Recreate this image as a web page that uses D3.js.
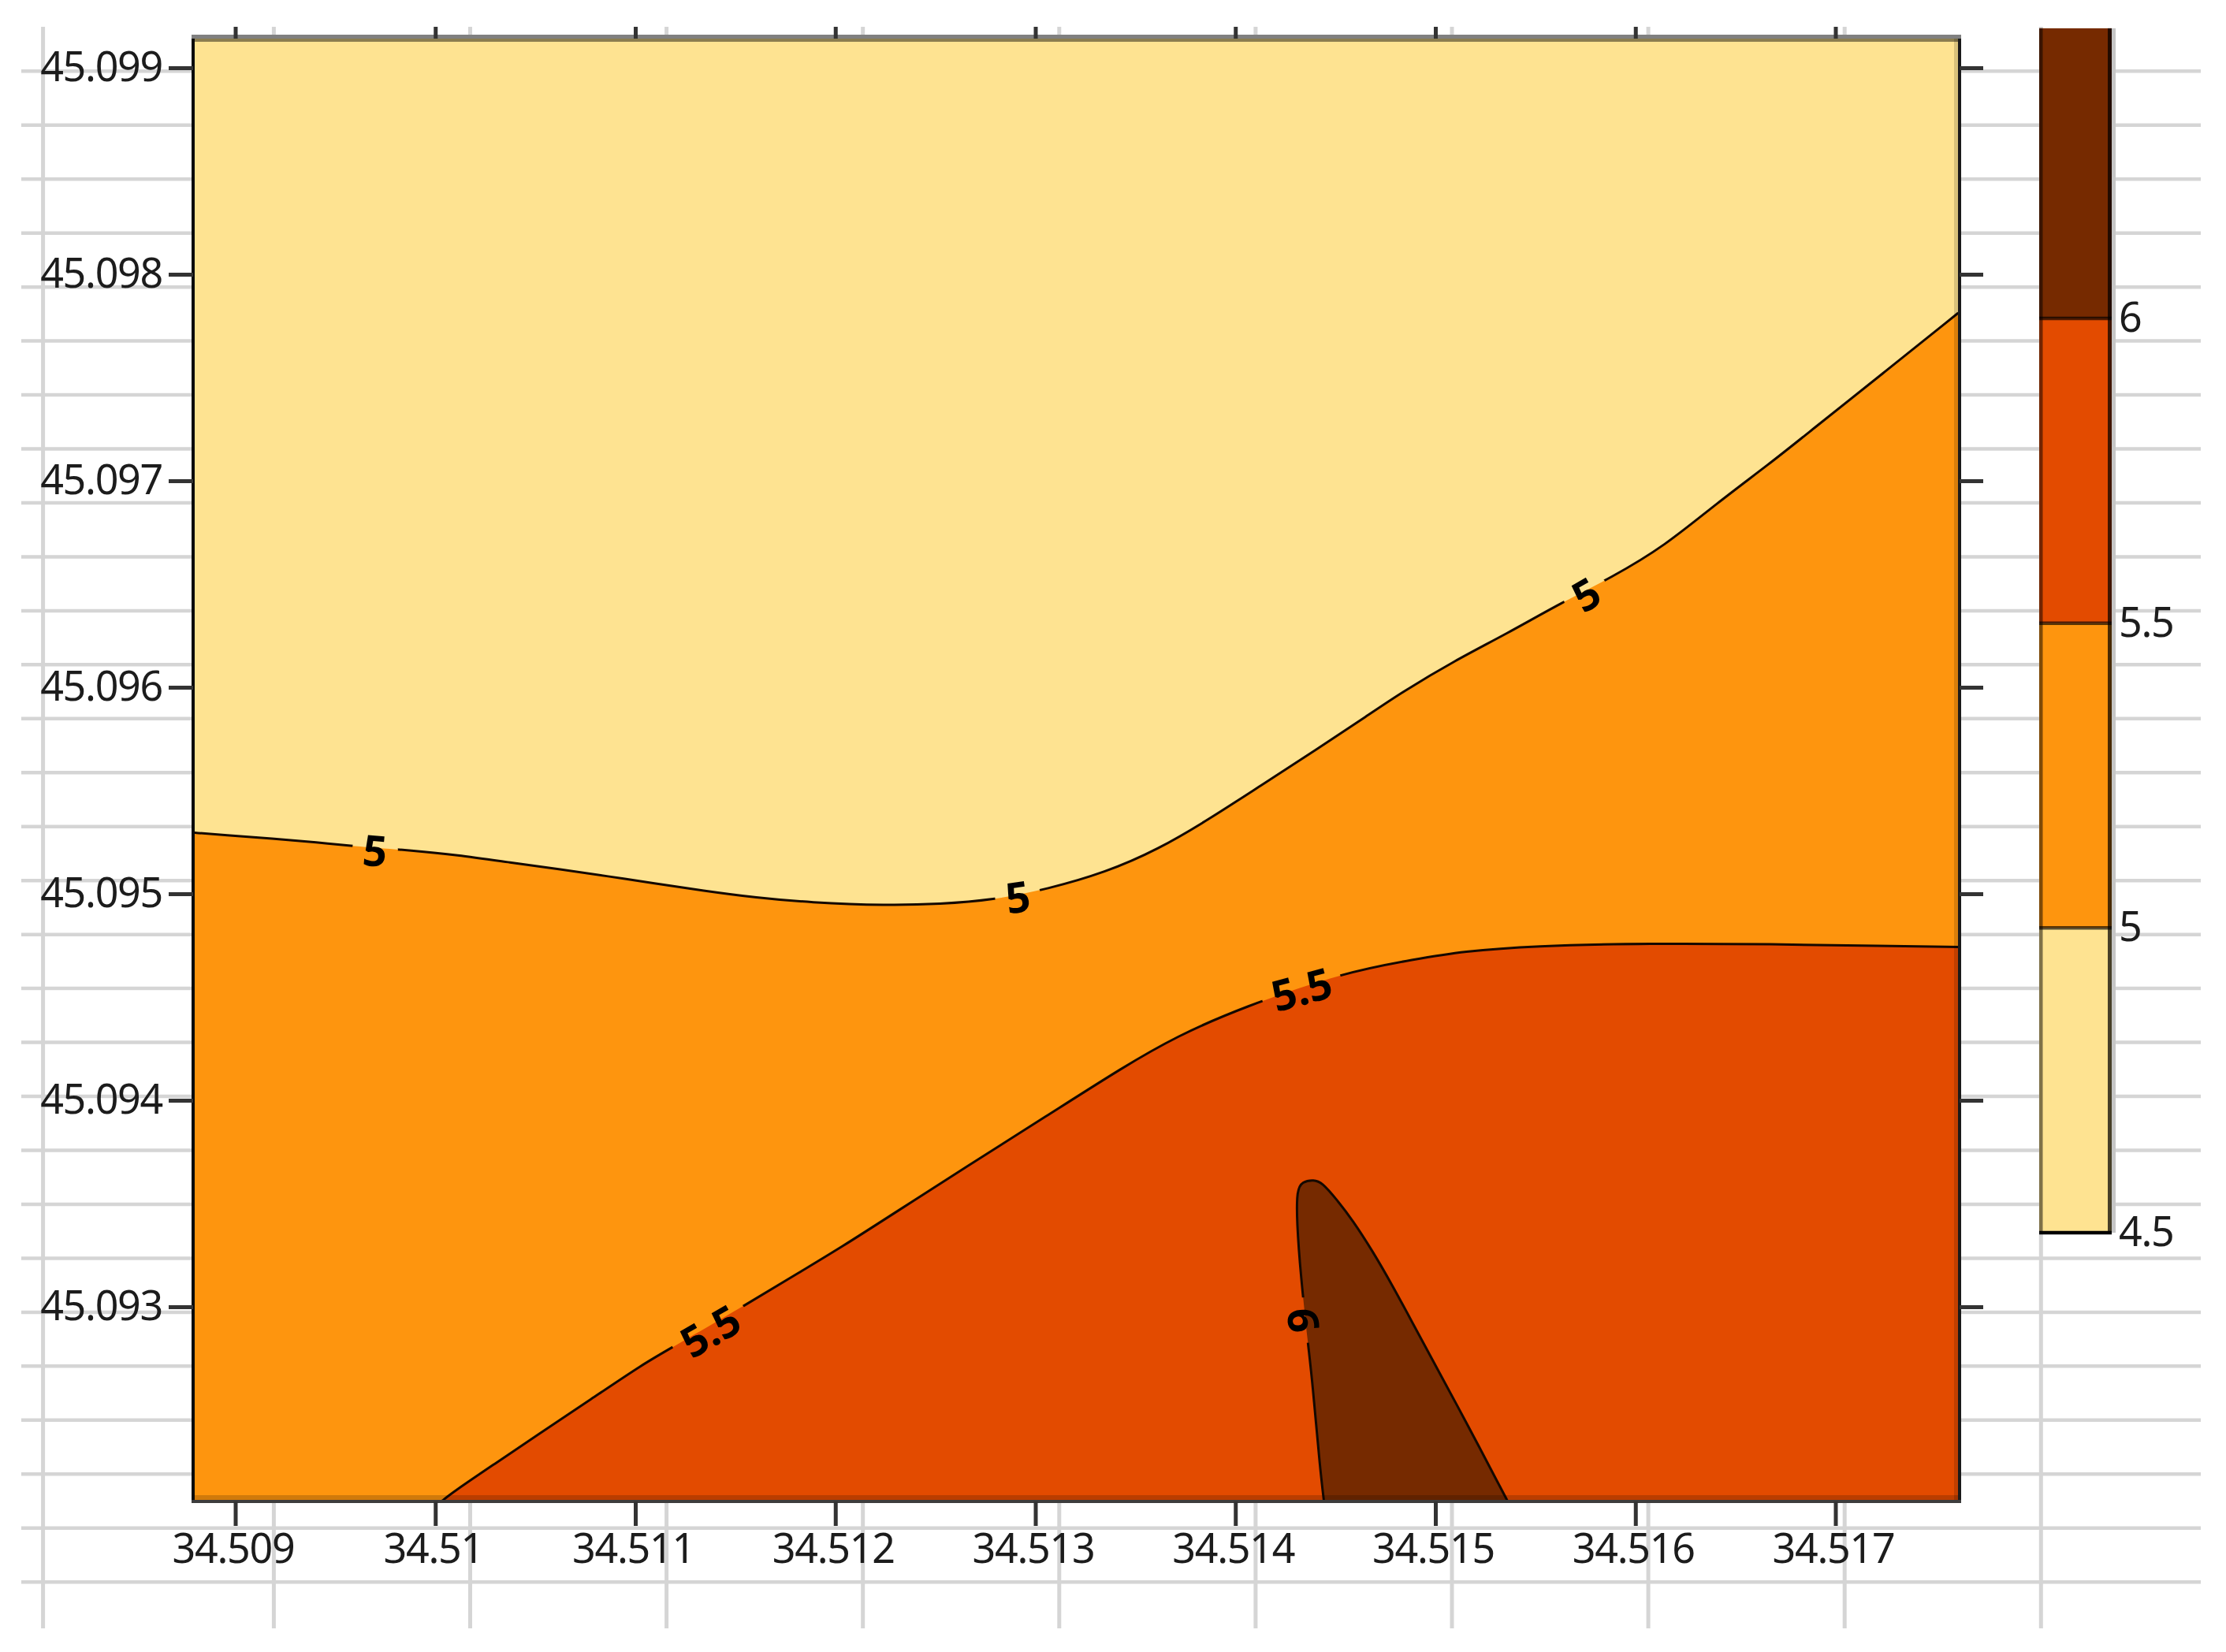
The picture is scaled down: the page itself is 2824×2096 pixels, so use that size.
<!DOCTYPE html>
<html>
<head>
<meta charset="utf-8">
<script src="https://cdn.jsdelivr.net/npm/d3@7"></script>
<style>
  html, body { margin: 0; padding: 0; background: #fff; }
  svg { display: block; }
  .tick text { font-family: "Noto Sans", sans-serif; font-size: 52px; letter-spacing: -1.3px; fill: #1c1c1c; }
  .domain { display: none; }
  .contour-label { font-family: "Noto Sans", sans-serif; font-size: 54px; font-weight: bold; fill: #000; }
</style>
</head>
<body>
<svg id="chart" width="2824" height="2096"></svg>
<script>
// tick values and labels
const xTicks = [34.509, 34.51, 34.511, 34.512, 34.513, 34.514, 34.515, 34.516, 34.517];
const xTickLabels = ["34.509", "34.51", "34.511", "34.512", "34.513", "34.514", "34.515", "34.516", "34.517"];
const yTicks = [45.099, 45.098, 45.097, 45.096, 45.095, 45.094, 45.093];
const yTickLabels = ["45.099", "45.098", "45.097", "45.096", "45.095", "45.094", "45.093"];

// map limits
const lonMin = 34.508789, lonMax = 34.517614;
const latMin = 45.092057, latMax = 45.099141;

// contour lines
const contour5Lon = [34.508789, 34.508947, 34.509183, 34.509419, 34.509565, 34.509904, 34.510101, 34.510364, 34.510628, 34.510869, 34.511081, 34.511341, 34.511605, 34.511869, 34.512262, 34.512522, 34.512786, 34.513062, 34.513349, 34.513613, 34.513877, 34.514137, 34.514401, 34.514665, 34.514834, 34.515098, 34.515358, 34.515621, 34.515885, 34.516145, 34.516409, 34.516673, 34.51687, 34.517236, 34.517614];
const contour5Lat = [45.095296, 45.095285, 45.095267, 45.095248, 45.095233, 45.095208, 45.095189, 45.095153, 45.095118, 45.095084, 45.095053, 45.095015, 45.094981, 45.094958, 45.094943, 45.09495, 45.094969, 45.095023, 45.095103, 45.095214, 45.095366, 45.095531, 45.095695, 45.095866, 45.095977, 45.09613, 45.09626, 45.096405, 45.096534, 45.096683, 45.096893, 45.097084, 45.097237, 45.097519, 45.097813];

const contour55Lon = [34.51003, 34.510089, 34.510298, 34.510514, 34.510778, 34.511042, 34.511184, 34.511554, 34.511829, 34.512026, 34.512302, 34.512656, 34.51305, 34.513444, 34.513704, 34.514034, 34.51455, 34.514901, 34.515137, 34.515484, 34.51607, 34.516685, 34.517236, 34.517614];
const contour55Lat = [45.092057, 45.092103, 45.09224, 45.092382, 45.092552, 45.092725, 45.092803, 45.09301, 45.093172, 45.093286, 45.093458, 45.093679, 45.09392, 45.094164, 45.094309, 45.09445, 45.094622, 45.094683, 45.094721, 45.094748, 45.09476, 45.094756, 45.094748, 45.094742];

const contour6Lon = [34.514443, 34.514423, 34.514384, 34.514365, 34.514326, 34.514307, 34.514307, 34.514334, 34.514393, 34.514432, 34.514507, 34.514586, 34.514688, 34.514783, 34.514885, 34.514999, 34.515098, 34.515228, 34.515306, 34.515362];
const contour6Lat = [45.092057, 45.092218, 45.092649, 45.092802, 45.093157, 45.093412, 45.093565, 45.093607, 45.093615, 45.093603, 45.093519, 45.09342, 45.093267, 45.093107, 45.092924, 45.092718, 45.092542, 45.092305, 45.09216, 45.092057];

// labels sitting on the contour lines
const labelText = ["5", "5", "5", "5.5", "5.5", "6"];
const labelLon = [34.509699, 34.512912, 34.515751, 34.511373, 34.51433, 34.514346];
const labelLat = [45.095214, 45.094989, 45.096454, 45.092887, 45.094542, 45.092935];
const labelAngle = [5, -8, -30, -30, -15, 85];

// colour bar
const legendLevels = [4.5, 5, 5.5, 6];
const legendLabels = ["4.5", "5", "5.5", "6"];
const legendTop = 6.476;
const bandColors = ["#fee391", "#fe950e", "#e34b00", "#762a00"];

const svg = d3.select("#chart");

const plot = { left: 247, right: 2484, top: 49, bottom: 1903 };

const x = d3.scaleLinear().domain([34.509, 34.517]).range([298.5, 2328.5]);
const y = d3.scaleLinear().domain([45.093, 45.099]).range([1658, 86]);
const legendY = d3.scaleLinear().domain([4.5, 6]).range([1564, 404]);

const toPoints = (lons, lats) => lons.map((lon, i) => [lon, lats[i]]);

const contourLine = d3.line()
  .x(d => x(d[0]))
  .y(d => y(d[1]))
  .curve(d3.curveBasis);

// sheet grid behind everything
const grid = svg.append("g").attr("stroke", "#d5d5d5");
d3.range(29).forEach(i => {
  const gy = 90.3 + i * 68.46;
  grid.append("line").attr("x1", 27).attr("x2", 2792).attr("y1", gy).attr("y2", gy).attr("stroke-width", 4.5);
});
[54.6].concat(d3.range(10).map(i => 347.4 + i * 249.1)).forEach(gx => {
  grid.append("line").attr("x1", gx).attr("x2", gx).attr("y1", 34).attr("y2", 2066).attr("stroke-width", 5);
});

// filled bands
svg.append("clipPath").attr("id", "plot-clip")
  .append("rect")
  .attr("x", plot.left).attr("y", plot.top)
  .attr("width", plot.right - plot.left).attr("height", plot.bottom - plot.top);

const map = svg.append("g").attr("clip-path", "url(#plot-clip)");

map.append("rect")
  .attr("x", plot.left).attr("y", plot.top)
  .attr("width", plot.right - plot.left).attr("height", plot.bottom - plot.top)
  .attr("fill", bandColors[0]);

// close a contour along the bottom of the map
const bandPath = pts => contourLine(pts)
  + `L${x(lonMax) + 10},${y(pts[pts.length - 1][1])}L${x(lonMax) + 10},${y(latMin) + 10}L${x(pts[0][0]) - 10},${y(latMin) + 10}Z`;

const pts5 = toPoints(contour5Lon, contour5Lat);
const pts55 = toPoints(contour55Lon, contour55Lat);
const pts6 = toPoints(contour6Lon, contour6Lat);

map.append("path").attr("d", bandPath(pts5)).attr("fill", bandColors[1]);
map.append("path")
  .attr("d", contourLine(pts55) + `L${x(lonMax) + 10},${y(contour55Lat[contour55Lat.length - 1])}L${x(lonMax) + 10},${y(latMin) + 10}L${x(contour55Lon[0])},${y(latMin) + 10}Z`)
  .attr("fill", bandColors[2]);
map.append("path").attr("d", contourLine(pts6) + "Z").attr("fill", bandColors[3]);

// contour lines break around their labels
const mask = svg.append("mask").attr("id", "label-gaps").attr("maskUnits", "userSpaceOnUse")
  .attr("x", 0).attr("y", 0).attr("width", 2824).attr("height", 2096);
mask.append("rect").attr("width", 2824).attr("height", 2096).attr("fill", "#fff");
labelText.forEach((t, i) => {
  mask.append("circle")
    .attr("cx", x(labelLon[i])).attr("cy", y(labelLat[i]))
    .attr("r", t.length === 1 ? 29 : 52)
    .attr("fill", "#000");
});

const lines = map.append("g")
  .attr("mask", "url(#label-gaps)")
  .attr("fill", "none")
  .attr("stroke", "#140800")
  .attr("stroke-width", 3);
lines.append("path").attr("d", contourLine(pts5));
lines.append("path").attr("d", contourLine(pts55));
lines.append("path").attr("d", contourLine(pts6));

labelText.forEach((t, i) => {
  map.append("text")
    .attr("class", "contour-label")
    .attr("text-anchor", "middle")
    .attr("dominant-baseline", "central")
    .attr("transform", `translate(${x(labelLon[i])},${y(labelLat[i])}) rotate(${labelAngle[i]})`)
    .text(t);
});

// inner shading and frame of the map
map.append("rect").attr("x", 2479).attr("y", plot.top).attr("width", 5).attr("height", plot.bottom - plot.top).attr("fill", "rgba(0,0,0,0.15)");
map.append("rect").attr("x", plot.left).attr("y", 1897).attr("width", plot.right - plot.left).attr("height", 6).attr("fill", "rgba(0,0,0,0.18)");

const frameRect = (fx, fy, fw, fh, fill) => svg.append("rect")
  .attr("x", fx).attr("y", fy).attr("width", fw).attr("height", fh).attr("fill", fill);
frameRect(243, 44, 2245, 5, "#808080");
frameRect(247, 49, 2237, 4, "rgba(0,0,0,0.45)");
frameRect(243, 49, 4, 1858, "#0a0a0a");
frameRect(2484, 49, 4, 1858, "#1a1a1a");
frameRect(243, 1903, 2245, 4, "#3d3d3d");

// axes
const styleAxis = g => {
  g.selectAll(".tick line").attr("stroke", "#333").attr("stroke-width", 5);
};

svg.append("g")
  .attr("transform", "translate(0,1905)")
  .call(d3.axisBottom(x).tickValues(xTicks).tickSize(31).tickPadding(10).tickFormat((d, i) => xTickLabels[i]))
  .call(styleAxis)
  .selectAll("text").attr("dx", -3);

svg.append("g")
  .attr("transform", "translate(0,49)")
  .call(d3.axisTop(x).tickValues(xTicks).tickSize(15).tickFormat(""))
  .call(styleAxis);

svg.append("g")
  .attr("transform", "translate(245,0)")
  .call(d3.axisLeft(y).tickValues(yTicks).tickSize(31).tickPadding(8).tickFormat((d, i) => yTickLabels[i]))
  .call(styleAxis);

svg.append("g")
  .attr("transform", "translate(2486,0)")
  .call(d3.axisRight(y).tickValues(yTicks).tickSize(30).tickFormat(""))
  .call(styleAxis);

// colour bar
const barLeft = 2587, barRight = 2679;
const bar = svg.append("g");
legendLevels.forEach((level, i) => {
  const top = legendY(i < legendLevels.length - 1 ? legendLevels[i + 1] : legendTop);
  bar.append("rect")
    .attr("x", barLeft).attr("y", top)
    .attr("width", barRight - barLeft).attr("height", legendY(level) - top)
    .attr("fill", bandColors[i]);
});
const barTop = legendY(legendTop), barBottom = legendY(4.5);
frameRect(barLeft, barTop, 4.5, barBottom - barTop, "rgba(0,0,0,0.5)");
frameRect(barRight - 5, barTop, 5, barBottom - barTop, "rgba(0,0,0,0.72)");
frameRect(barRight, barTop, 5, barBottom - barTop, "#c6c6c6");
legendLevels.forEach(level => {
  bar.append("line")
    .attr("x1", barLeft).attr("x2", barRight)
    .attr("y1", legendY(level)).attr("y2", legendY(level))
    .attr("stroke", level === 4.5 ? "#000" : "rgba(0,0,0,0.65)")
    .attr("stroke-width", 4.5);
});

svg.append("g")
  .attr("transform", `translate(${barRight},0)`)
  .call(d3.axisRight(legendY).tickValues(legendLevels).tickSize(0).tickPadding(9).tickFormat((d, i) => legendLabels[i]));
</script>
</body>
</html>
